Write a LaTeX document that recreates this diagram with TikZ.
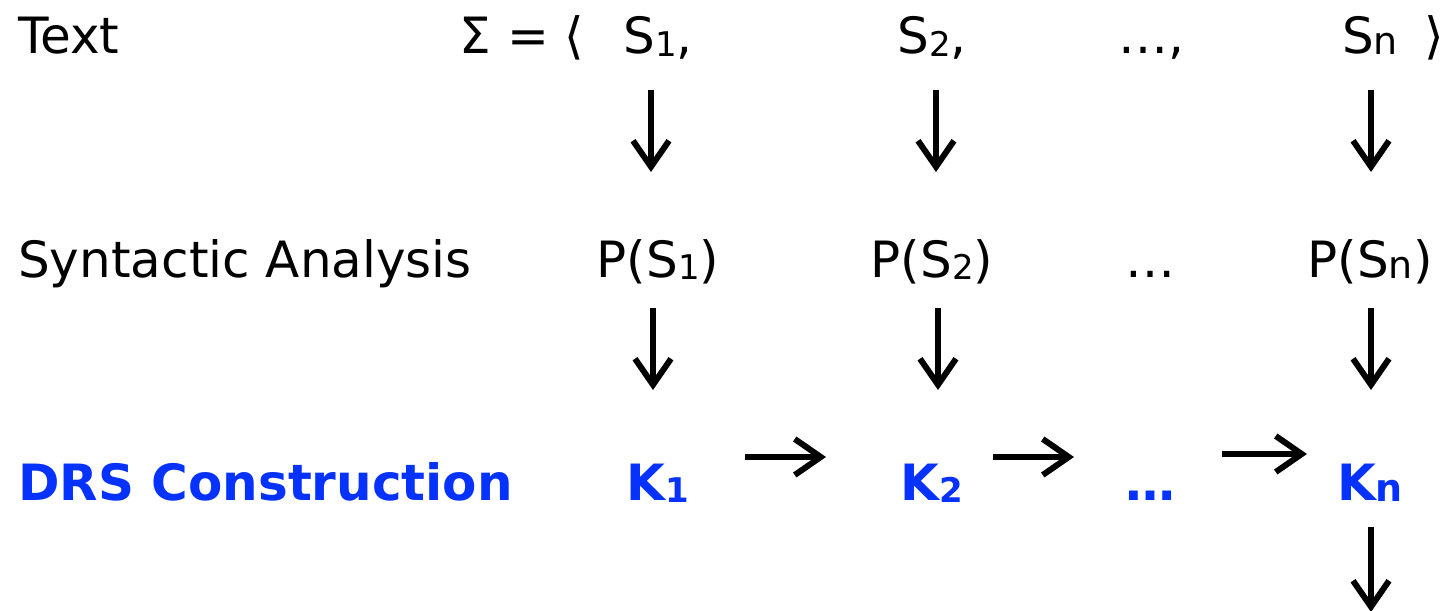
\documentclass[tikz,border=0pt]{standalone}
\usepackage{fontspec}
\setmainfont{DejaVu Sans}
\usetikzlibrary{arrows.meta}
\definecolor{drsblue}{RGB}{5,50,255}
\newcommand{\mysubd}[1]{\raisebox{-2pt}{\fontsize{34}{40}\selectfont #1}}
\newcommand{\mysubn}{\raisebox{-1pt}{\fontsize{38}{40}\selectfont n}}
\begin{document}
\begin{tikzpicture}[x=1pt,y=-1pt,
  every node/.style={inner sep=0pt,font=\fontsize{50}{60}\selectfont},
  lbl/.style={anchor=base west},
  itm/.style={anchor=base},
  drs/.style={text=drsblue,font=\fontsize{50}{60}\selectfont\bfseries},
  arr/.style={line width=6pt,-{Straight Barb[length=26pt,width=36pt,line width=6pt]}}]
\useasboundingbox (0,0) rectangle (1450,610);
% row 1
\node[lbl] (ltext) at (18,54) {Text};
\node[itm] (sigma) at (522,54) {Σ = ⟨};
\node[itm] (s1) at (658,54) {S\mysubd{1},};
\node[itm] (s2) at (932,54) {S\mysubd{2},};
\node[itm] (sdots) at (1151,54) {…,};
\node[itm] (sn) at (1370,54) {S\mysubn};
\node[itm] (rang) at (1434,54) {⟩};
% row 2
\node[lbl] (lsyn) at (18,277) {Syntactic Analysis};
\node[itm] (p1) at (658,277) {P(S\mysubd{1})};
\node[itm] (p2) at (932,277) {P(S\mysubd{2})};
\node[itm] (pdots) at (1150,277) {…};
\node[itm] (pn) at (1370,277) {P(S\mysubn)};
% row 3
\node[lbl,drs] (ldrs) at (18,500) {DRS Construction};
\node[itm,drs] (k1) at (658,500) {K\mysubd{1}};
\node[itm,drs] (k2) at (932,500) {K\mysubd{2}};
\node[itm,drs] (kdots) at (1150,500) {…};
\node[itm,drs] (kn) at (1370,500) {K\mysubn};
\coordinate (out) at (1371,612);
% vertical arrows row 1 -> row 2
\draw[arr] ([xshift=-7pt,yshift=-36pt]s1.base) -- ([xshift=-7pt,yshift=105pt]p1.base);
\draw[arr] ([xshift=4pt,yshift=-36pt]s2.base) -- ([xshift=4pt,yshift=105pt]p2.base);
\draw[arr] ([xshift=1pt,yshift=-36pt]sn.base) -- ([xshift=1pt,yshift=105pt]pn.base);
% vertical arrows row 2 -> row 3
\draw[arr] ([xshift=-5pt,yshift=-31pt]p1.base) -- ([xshift=-5pt,yshift=110pt]k1.base);
\draw[arr] ([xshift=6pt,yshift=-31pt]p2.base) -- ([xshift=6pt,yshift=110pt]k2.base);
\draw[arr] ([xshift=1pt,yshift=-31pt]pn.base) -- ([xshift=1pt,yshift=110pt]kn.base);
% horizontal arrows
\draw[arr] ([xshift=87pt,yshift=43pt]k1.base) -- ([xshift=-106pt,yshift=43pt]k2.base);
\draw[arr] ([xshift=61pt,yshift=43pt]k2.base) -- ([xshift=-76pt,yshift=43pt]kdots.base);
\draw[arr] ([xshift=72pt,yshift=46pt]kdots.base) -- ([xshift=-63pt,yshift=46pt]kn.base);
% output arrow
\draw[arr] ([xshift=1pt,yshift=-27pt]kn.base) -- (out);
\end{tikzpicture}
\end{document}
